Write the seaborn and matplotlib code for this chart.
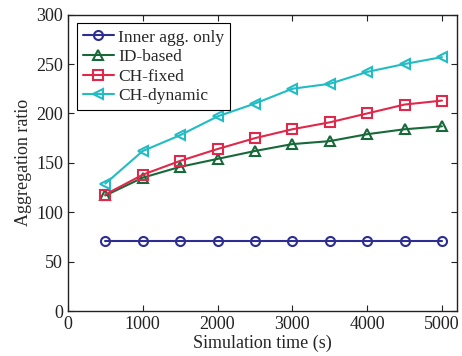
import pandas as pd
import numpy as np
import matplotlib
matplotlib.use('Agg')
import matplotlib.pyplot as plt
import seaborn as sns

times = [500, 1000, 1500, 2000, 2500, 3000, 3500, 4000, 4500, 5000]
inner_only = [71, 71, 71, 71, 71, 71, 71, 71, 71, 71]
id_based = [117, 135, 146, 154, 162, 169, 172, 179, 184, 187]
ch_fixed = [118, 138, 152, 164, 175, 184, 191, 200, 209, 213]
ch_dynamic = [129, 162, 178, 197, 210, 225, 230, 242, 250, 257]

names = ['Inner agg. only', 'ID-based', 'CH-fixed', 'CH-dynamic']
colors = ['#2e2e90', '#17693a', '#e0284a', '#22bcc4']
markers = ['o', '^', 's', '<']

df = pd.DataFrame({'time': times * 4,
                   'ratio': inner_only + id_based + ch_fixed + ch_dynamic,
                   'scheme': sum([[n] * len(times) for n in names], [])})

sns.set_style('ticks')
plt.rcParams['font.family'] = ['Liberation Serif', 'DejaVu Serif']
plt.rcParams['font.size'] = 13

fig = plt.figure(figsize=(4.62, 3.56), dpi=100)
ax = fig.add_axes([0.147, 0.126, 0.842, 0.833])

for n, c, m in zip(names, colors, markers):
    sub = df[df['scheme'] == n]
    sns.lineplot(data=sub, x='time', y='ratio', ax=ax, color=c, marker=m,
                 markersize=6.5, markerfacecolor='none', markeredgecolor=c,
                 markeredgewidth=1.5, linewidth=1.5, label=n)

ax.set_xlim(0, 5200)
ax.set_ylim(0, 300)
ax.set_xticks([0, 1000, 2000, 3000, 4000, 5000])
ax.set_yticks(np.arange(0, 301, 50))
ax.set_xlabel('Simulation time (s)', fontsize=13, labelpad=1)
ax.set_ylabel('Aggregation ratio', fontsize=13, labelpad=3)
ax.tick_params(direction='in', top=True, right=True, length=4, labelsize=13, colors='#222222')
for s in ax.spines.values():
    s.set_color('#222222')
    s.set_linewidth(1)

leg = ax.legend(loc='upper left', fontsize=12.5, frameon=True, fancybox=False,
                edgecolor='black', framealpha=1, handlelength=1.8,
                borderpad=0.35, labelspacing=0.2, handletextpad=0.25,
                borderaxespad=0.5)
leg.get_frame().set_linewidth(0.8)

fig.savefig('out.png', dpi=100)
